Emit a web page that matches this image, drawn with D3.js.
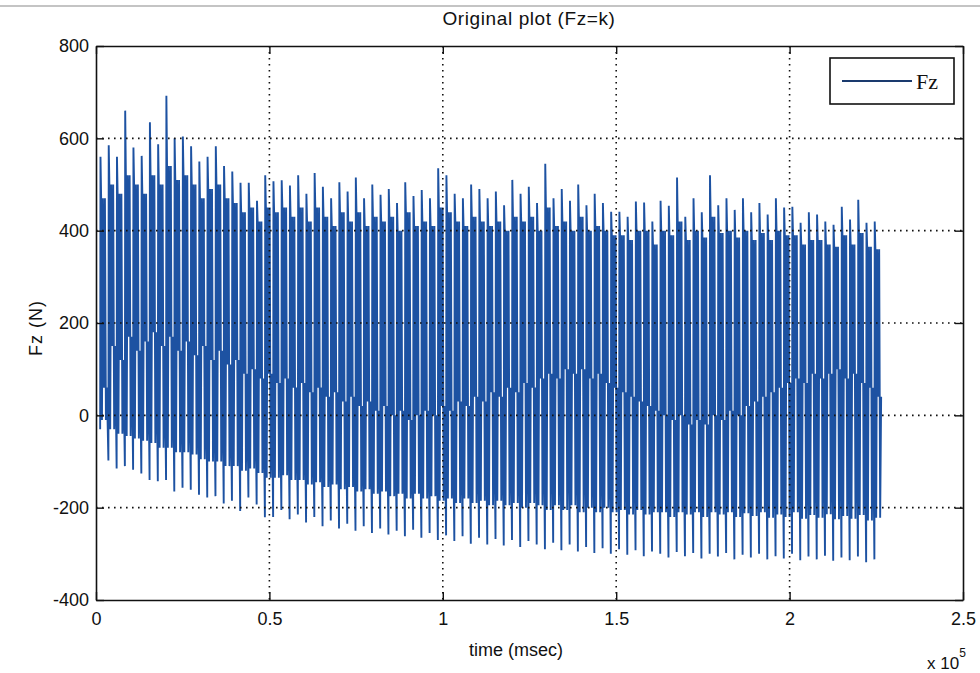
<!DOCTYPE html>
<html><head><meta charset="utf-8">
<script src="https://cdn.jsdelivr.net/npm/d3@7"></script>
<style>html,body{margin:0;padding:0;background:#fff;}svg{display:block;}</style>
</head><body>
<svg id="chart" width="980" height="673"></svg>
<script>
// ---- data ----
const xTickValues = [0, 50000, 100000, 150000, 200000, 250000];
const xTickLabels = ["0", "0.5", "1", "1.5", "2", "2.5"];
const yTickValues = [-400, -200, 0, 200, 400, 600, 800];
const yTickLabels = ["-400", "-200", "0", "200", "400", "600", "800"];
const cycleStart = 1200;   // msec, first load cycle
const cyclePeriod = 2375;  // msec between load cycles
// per-cycle maximum force (N)
const peaks = [560,585,560,660,580,562,635,587,692,600,
  604,583,550,560,583,540,528,504,504,465,
  520,507,509,498,520,480,525,495,470,505,
  485,515,470,500,478,490,460,505,475,488,
  470,535,520,480,470,500,490,470,485,455,
  510,480,495,460,545,470,490,465,500,455,
  480,460,441,441,430,463,461,420,465,454,
  515,430,470,440,520,455,470,445,470,440,
  460,435,470,450,452,417,440,435,420,413,
  452,424,467,417,420];
// per-cycle upper plateau level (N)
const shoulders = [470,500,480,520,500,480,520,500,540,510,
  520,500,470,490,500,470,460,440,450,420,
  450,440,450,430,450,420,450,430,410,440,
  420,440,410,430,420,430,400,440,410,420,
  410,450,440,420,410,430,420,410,420,400,
  430,420,430,400,450,410,420,400,430,400,
  410,400,390,390,380,400,400,370,400,390,
  420,380,400,385,430,395,400,385,400,380,
  395,380,400,390,390,370,380,380,370,365,
  390,370,395,365,360];
// per-cycle intermediate low level (N)
const mids = [60,150,120,170,140,160,180,150,170,140,
  160,130,150,120,140,110,120,90,100,80,
  90,70,80,60,70,50,60,40,50,30,
  40,20,30,10,20,0,10,-10,0,10,
  0,20,10,30,20,40,30,50,40,60,
  50,70,60,80,90,80,100,90,100,80,
  90,70,60,50,40,30,20,10,0,-10,
  0,-20,-10,-20,0,-10,10,0,20,30,
  40,50,60,70,80,70,90,80,90,100,
  80,90,70,60,40];
// per-cycle lower plateau level (N)
const floors = [-10,-30,-40,-45,-50,-55,-60,-70,-70,-80,
  -80,-85,-95,-100,-100,-110,-110,-120,-115,-125,
  -135,-135,-130,-140,-140,-150,-145,-155,-150,-160,
  -155,-165,-160,-170,-165,-175,-170,-180,-170,-180,
  -175,-185,-180,-190,-180,-190,-185,-195,-185,-195,
  -190,-200,-190,-195,-205,-195,-205,-195,-210,-200,
  -210,-200,-210,-205,-215,-205,-215,-210,-210,-220,
  -210,-215,-210,-220,-210,-215,-210,-220,-212,-218,
  -210,-222,-215,-220,-210,-224,-216,-222,-214,-225,
  -218,-224,-216,-228,-222];
// per-cycle minimum force (N)
const troughs = [-30,-98,-115,-110,-118,-126,-140,-143,-140,-165,
  -157,-161,-172,-178,-175,-191,-185,-207,-178,-193,
  -221,-220,-205,-225,-215,-232,-220,-240,-228,-245,
  -235,-250,-240,-255,-245,-258,-250,-262,-248,-265,
  -255,-270,-260,-272,-262,-278,-265,-280,-268,-282,
  -270,-285,-272,-280,-290,-276,-292,-280,-295,-285,
  -298,-288,-300,-290,-302,-292,-305,-295,-300,-308,
  -296,-305,-298,-310,-300,-306,-298,-312,-302,-308,
  -300,-312,-305,-310,-300,-314,-306,-312,-304,-315,
  -308,-314,-306,-318,-312];

// ---- layout ----
const svg = d3.select("#chart");
const L = 96, R = 963, T = 46, B = 600;
const x = d3.scaleLinear().domain([0, 250000]).range([L, R]);
const y = d3.scaleLinear().domain([-400, 800]).range([B, T]);
const blue = "#1d52a2";
const font = "Liberation Sans, Arial, sans-serif";

// window edge line at top
svg.append("line").attr("x1", 0).attr("x2", 980).attr("y1", 6).attr("y2", 6)
  .attr("stroke", "#c4c4c4").attr("stroke-width", 2);

// build signal samples within each cycle (fraction of the cycle, level)
const phase = [0, 0.04, 0.12, 0.22, 0.34, 0.46, 0.58, 0.70, 0.82];
const pts = [];
peaks.forEach((p, i) => {
  const t0 = cycleStart + i * cyclePeriod;
  const levels = [troughs[i], p, shoulders[i], floors[i], shoulders[i], mids[i], shoulders[i], floors[i], mids[i]];
  levels.forEach((v, k) => pts.push([t0 + phase[k] * cyclePeriod, v]));
});

svg.append("path").datum(pts)
  .attr("d", d3.line().x(d => x(d[0])).y(d => y(d[1])))
  .attr("fill", "none").attr("stroke", blue).attr("stroke-width", 1.9)
  .attr("stroke-linejoin", "bevel");

// grid (dotted)
const grid = svg.append("g");
xTickValues.slice(1, -1).forEach(v => grid.append("line")
  .attr("x1", x(v)).attr("x2", x(v)).attr("y1", T).attr("y2", B)
  .attr("stroke", "#111").attr("stroke-width", 1.6).attr("stroke-dasharray", "1.6,4.4"));
yTickValues.slice(1, -1).forEach(v => grid.append("line")
  .attr("x1", L).attr("x2", R).attr("y1", y(v)).attr("y2", y(v))
  .attr("stroke", "#111").attr("stroke-width", 1.6).attr("stroke-dasharray", "1.6,4.4"));

// axes
const fmtX = d => xTickLabels[xTickValues.indexOf(d)];
const fmtY = d => yTickLabels[yTickValues.indexOf(d)];
const axStyle = sel => {
  sel.select(".domain").attr("stroke", "#111").attr("stroke-width", 1.6);
  sel.selectAll(".tick line").attr("stroke", "#111").attr("stroke-width", 1.4);
  sel.selectAll(".tick text").attr("fill", "#111").style("font-family", font).style("font-size", "18px");
};
svg.append("g").attr("transform", `translate(0,${B})`)
  .call(d3.axisBottom(x).tickValues(xTickValues).tickFormat(fmtX).tickSizeInner(-8).tickSizeOuter(0).tickPadding(12))
  .call(axStyle);
svg.append("g").attr("transform", `translate(0,${T})`)
  .call(d3.axisTop(x).tickValues(xTickValues).tickFormat("").tickSizeInner(-8).tickSizeOuter(0))
  .call(axStyle);
svg.append("g").attr("transform", `translate(${L},0)`)
  .call(d3.axisLeft(y).tickValues(yTickValues).tickFormat(fmtY).tickSizeInner(-8).tickSizeOuter(0).tickPadding(7))
  .call(axStyle);
svg.append("g").attr("transform", `translate(${R},0)`)
  .call(d3.axisRight(y).tickValues(yTickValues).tickFormat("").tickSizeInner(-8).tickSizeOuter(0))
  .call(axStyle);

// texts
svg.append("text").attr("x", 529).attr("y", 25).attr("text-anchor", "middle")
  .style("font-family", font).style("font-size", "19px").style("letter-spacing", "0.6px")
  .attr("fill", "#111").text("Original plot (Fz=k)");
svg.append("text").attr("x", 516).attr("y", 656).attr("text-anchor", "middle")
  .style("font-family", font).style("font-size", "18px").attr("fill", "#111").text("time (msec)");
svg.append("text").attr("transform", "translate(42,328) rotate(-90)").attr("text-anchor", "middle")
  .style("font-family", font).style("font-size", "18px").style("letter-spacing", "1px")
  .attr("fill", "#111").text("Fz (N)");
const ex = svg.append("text").attr("x", 927).attr("y", 669)
  .style("font-family", font).style("font-size", "17px").attr("fill", "#111");
ex.append("tspan").text("x 10");
ex.append("tspan").attr("dy", -12).style("font-size", "12px").text("5");

// legend
const lg = svg.append("g");
lg.append("rect").attr("x", 830).attr("y", 58).attr("width", 124).attr("height", 46)
  .attr("fill", "#fff").attr("stroke", "#111").attr("stroke-width", 1.6);
lg.append("line").attr("x1", 842).attr("x2", 912).attr("y1", 81).attr("y2", 81)
  .attr("stroke", "#1a3a6e").attr("stroke-width", 2);
lg.append("text").attr("x", 916).attr("y", 89)
  .style("font-family", "Liberation Serif, Times New Roman, serif").style("font-size", "22px").attr("fill", "#111").text("Fz");
</script>
</body></html>
